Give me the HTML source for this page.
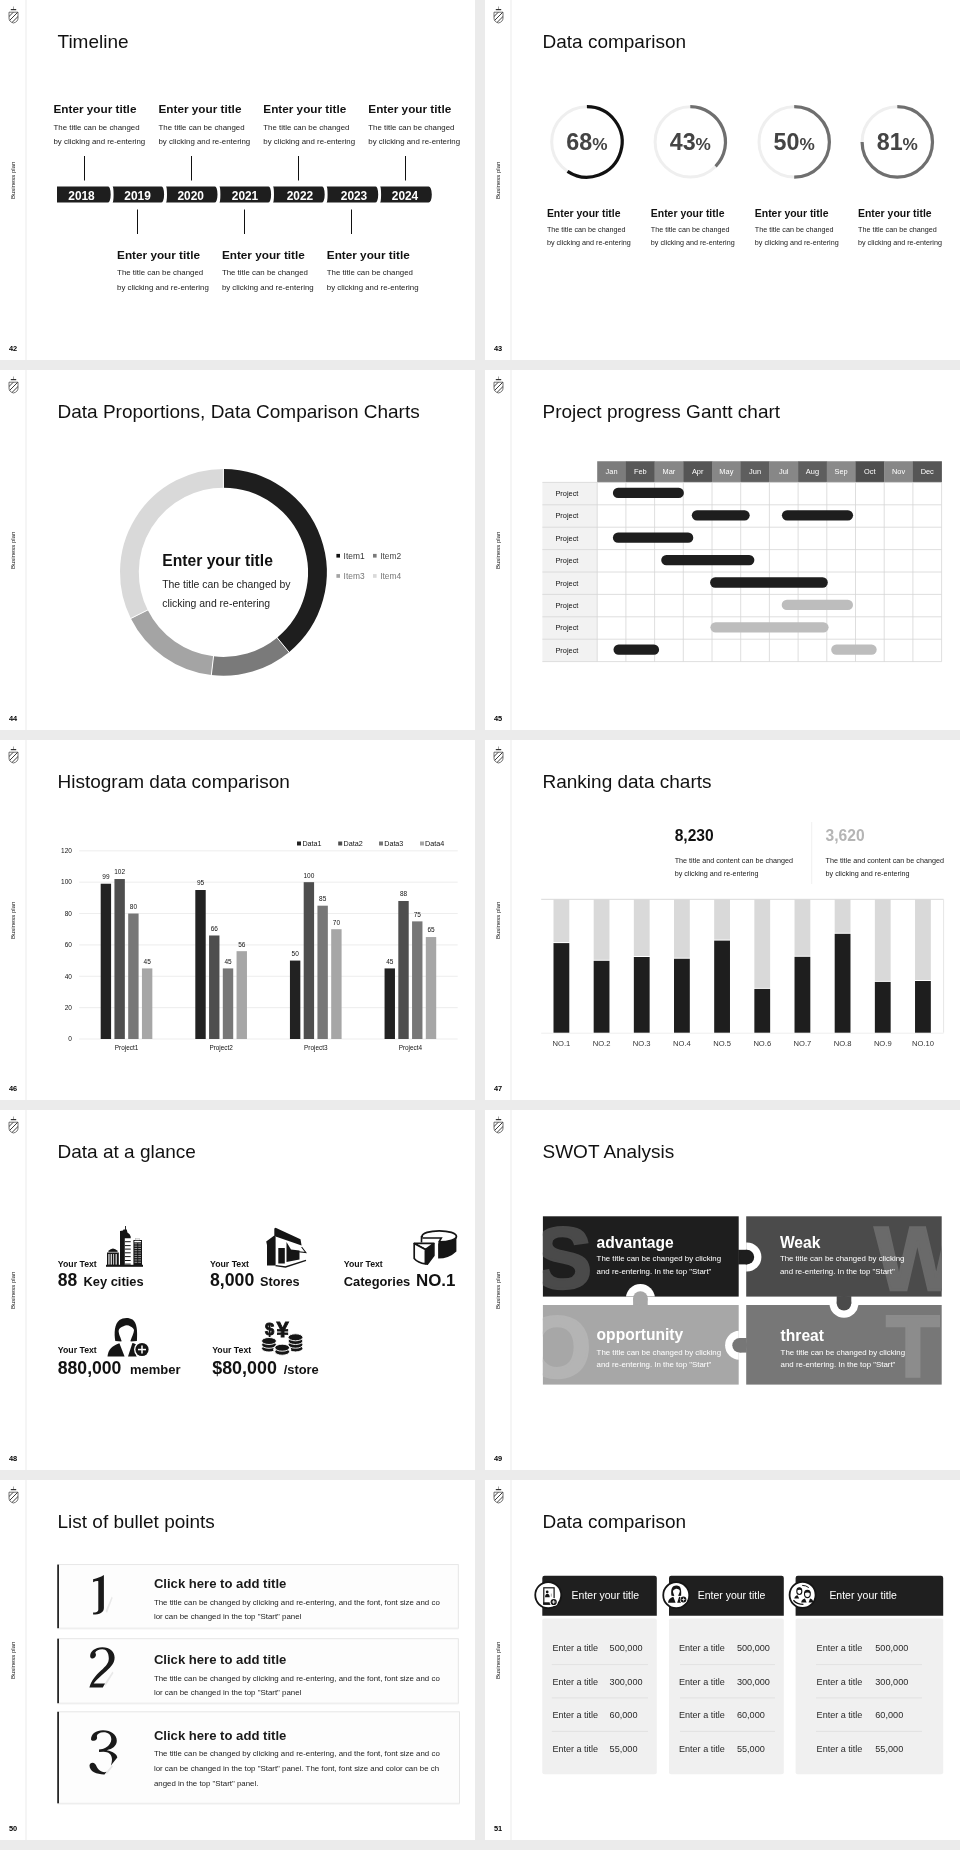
<!DOCTYPE html>
<html><head><meta charset="utf-8"><title>Slides</title>
<style>
html,body{margin:0;padding:0;background:#ebebeb;}
body{width:960px;height:1850px;position:relative;overflow:hidden;font-family:"Liberation Sans",sans-serif;}
svg.s{position:absolute;width:475px;height:360px;background:#fff;will-change:transform;}
svg text{font-family:"Liberation Sans",sans-serif;}
.ttl{font-size:19px;fill:#111;}
.pn{font-size:7.4px;font-weight:bold;fill:#000;}
.bp{font-size:6px;fill:#111;}
</style></head>
<body>
<svg width="0" height="0" style="position:absolute">
<defs>
<clipPath id="shc"><path d="M9,12.2 H18 V18 Q18,21.8 13.5,23 Q9,21.8 9,18 Z"/></clipPath>
<g id="com">
<rect x="25" y="0" width="2" height="360" fill="#f5f5f5"/>
<line x1="13.5" y1="6.5" x2="13.5" y2="9.3" stroke="#666" stroke-width="0.6"/>
<rect x="10.8" y="9" width="5.4" height="1.2" fill="#333"/>
<g clip-path="url(#shc)" stroke="#1a1a1a" stroke-width="0.85">
<line x1="7" y1="18.5" x2="14" y2="11.5"/><line x1="8" y1="22" x2="18.5" y2="11.5"/><line x1="11.5" y1="23" x2="19" y2="15.5"/>
</g>
<path d="M9,12.2 H18 V18 Q18,21.8 13.5,23 Q9,21.8 9,18 Z" fill="none" stroke="#444" stroke-width="0.75"/>
<text class="bp" transform="translate(15.2,199) rotate(-90)">Business plan</text>
</g>
</defs>
</svg>

<!-- S42 Timeline -->
<svg class="s" style="left:0;top:0" viewBox="0 0 475 360">
<use href="#com"/>
<text class="pn" x="8.9" y="351.3">42</text>
<text class="ttl" x="57.5" y="47.9">Timeline</text>
<path d="M57,186.4 H428.6 A3.2,8.05 0 0 1 428.6,202.5 H57 Z" fill="#1e1e1e"/>
<path d="M107.6,185.8 A3.1,8.65 0 0 1 107.6,203.1 L112.4,203.1 A1.2,8.65 0 0 0 112.4,185.8 Z" fill="#fff"/>
<path d="M161.0,185.8 A3.1,8.65 0 0 1 161.0,203.1 L165.8,203.1 A1.2,8.65 0 0 0 165.8,185.8 Z" fill="#fff"/>
<path d="M214.4,185.8 A3.1,8.65 0 0 1 214.4,203.1 L219.2,203.1 A1.2,8.65 0 0 0 219.2,185.8 Z" fill="#fff"/>
<path d="M268.0,185.8 A3.1,8.65 0 0 1 268.0,203.1 L272.8,203.1 A1.2,8.65 0 0 0 272.8,185.8 Z" fill="#fff"/>
<path d="M321.6,185.8 A3.1,8.65 0 0 1 321.6,203.1 L326.4,203.1 A1.2,8.65 0 0 0 326.4,185.8 Z" fill="#fff"/>
<path d="M375.1,185.8 A3.1,8.65 0 0 1 375.1,203.1 L379.9,203.1 A1.2,8.65 0 0 0 379.9,185.8 Z" fill="#fff"/>
<text x="81.5" y="199.7" text-anchor="middle" font-weight="bold" font-size="11.9" fill="#fff">2018</text>
<text x="137.6" y="199.7" text-anchor="middle" font-weight="bold" font-size="11.9" fill="#fff">2019</text>
<text x="190.7" y="199.7" text-anchor="middle" font-weight="bold" font-size="11.9" fill="#fff">2020</text>
<text x="245" y="199.7" text-anchor="middle" font-weight="bold" font-size="11.9" fill="#fff">2021</text>
<text x="299.9" y="199.7" text-anchor="middle" font-weight="bold" font-size="11.9" fill="#fff">2022</text>
<text x="354" y="199.7" text-anchor="middle" font-weight="bold" font-size="11.9" fill="#fff">2023</text>
<text x="405" y="199.7" text-anchor="middle" font-weight="bold" font-size="11.9" fill="#fff">2024</text>
<rect x="84" y="156" width="1" height="24.5" fill="#111"/>
<rect x="191" y="156" width="1" height="24.5" fill="#111"/>
<rect x="298" y="156" width="1" height="24.5" fill="#111"/>
<rect x="405" y="156" width="1" height="24.5" fill="#111"/>
<rect x="137" y="209.5" width="1" height="24.5" fill="#111"/>
<rect x="244" y="209.5" width="1" height="24.5" fill="#111"/>
<rect x="351" y="209.5" width="1" height="24.5" fill="#111"/>
<text x="53.5" y="112.9" font-weight="bold" font-size="11.75" fill="#111">Enter your title</text><text x="53.5" y="129.5" font-size="7.86" fill="#1a1a1a">The title can be changed</text><text x="53.5" y="143.7" font-size="7.86" fill="#1a1a1a">by clicking and re-entering</text>
<text x="158.5" y="112.9" font-weight="bold" font-size="11.75" fill="#111">Enter your title</text><text x="158.5" y="129.5" font-size="7.86" fill="#1a1a1a">The title can be changed</text><text x="158.5" y="143.7" font-size="7.86" fill="#1a1a1a">by clicking and re-entering</text>
<text x="263.3" y="112.9" font-weight="bold" font-size="11.75" fill="#111">Enter your title</text><text x="263.3" y="129.5" font-size="7.86" fill="#1a1a1a">The title can be changed</text><text x="263.3" y="143.7" font-size="7.86" fill="#1a1a1a">by clicking and re-entering</text>
<text x="368.3" y="112.9" font-weight="bold" font-size="11.75" fill="#111">Enter your title</text><text x="368.3" y="129.5" font-size="7.86" fill="#1a1a1a">The title can be changed</text><text x="368.3" y="143.7" font-size="7.86" fill="#1a1a1a">by clicking and re-entering</text>
<text x="117.1" y="258.8" font-weight="bold" font-size="11.75" fill="#111">Enter your title</text><text x="117.1" y="275.2" font-size="7.86" fill="#1a1a1a">The title can be changed</text><text x="117.1" y="289.5" font-size="7.86" fill="#1a1a1a">by clicking and re-entering</text>
<text x="221.9" y="258.8" font-weight="bold" font-size="11.75" fill="#111">Enter your title</text><text x="221.9" y="275.2" font-size="7.86" fill="#1a1a1a">The title can be changed</text><text x="221.9" y="289.5" font-size="7.86" fill="#1a1a1a">by clicking and re-entering</text>
<text x="326.8" y="258.8" font-weight="bold" font-size="11.75" fill="#111">Enter your title</text><text x="326.8" y="275.2" font-size="7.86" fill="#1a1a1a">The title can be changed</text><text x="326.8" y="289.5" font-size="7.86" fill="#1a1a1a">by clicking and re-entering</text>
</svg>

<!-- S43 Data comparison circles -->
<svg class="s" style="left:485px;top:0" viewBox="0 0 475 360">
<use href="#com"/>
<text class="pn" x="8.9" y="351.3">43</text>
<text class="ttl" x="57.5" y="47.9">Data comparison</text>
<circle cx="101.9" cy="141.9" r="35.2" fill="none" stroke="#efefef" stroke-width="3"/>
<path d="M101.9,106.7 A35.2,35.2 0 1 1 82.52,171.29" fill="none" stroke="#111" stroke-width="3.2"/>
<text x="101.9" y="150" text-anchor="middle" font-weight="bold" fill="#444"><tspan font-size="23.3">68</tspan><tspan font-size="17.2">%</tspan></text>
<circle cx="205.3" cy="141.9" r="35.2" fill="none" stroke="#efefef" stroke-width="3"/>
<path d="M205.3,106.7 A35.2,35.2 0 0 1 230.62,166.35" fill="none" stroke="#6f6f6f" stroke-width="3.2"/>
<text x="205.3" y="150" text-anchor="middle" font-weight="bold" fill="#444"><tspan font-size="23.3">43</tspan><tspan font-size="17.2">%</tspan></text>
<circle cx="309.2" cy="141.9" r="35.2" fill="none" stroke="#efefef" stroke-width="3"/>
<path d="M309.2,106.7 A35.2,35.2 0 0 1 309.20,177.10" fill="none" stroke="#6f6f6f" stroke-width="3.2"/>
<text x="309.2" y="150" text-anchor="middle" font-weight="bold" fill="#444"><tspan font-size="23.3">50</tspan><tspan font-size="17.2">%</tspan></text>
<circle cx="412.3" cy="141.9" r="35.2" fill="none" stroke="#efefef" stroke-width="3"/>
<path d="M412.3,106.7 A35.2,35.2 0 1 1 377.10,141.90" fill="none" stroke="#6f6f6f" stroke-width="3.2"/>
<text x="412.3" y="150" text-anchor="middle" font-weight="bold" fill="#444"><tspan font-size="23.3">81</tspan><tspan font-size="17.2">%</tspan></text>
<text x="61.9" y="217.3" font-weight="bold" font-size="10.45" fill="#111">Enter your title</text>
<text x="61.9" y="232.2" font-size="7.2" fill="#1a1a1a">The title can be changed</text>
<text x="61.9" y="244.8" font-size="7.2" fill="#1a1a1a">by clicking and re-entering</text>
<text x="165.8" y="217.3" font-weight="bold" font-size="10.45" fill="#111">Enter your title</text>
<text x="165.8" y="232.2" font-size="7.2" fill="#1a1a1a">The title can be changed</text>
<text x="165.8" y="244.8" font-size="7.2" fill="#1a1a1a">by clicking and re-entering</text>
<text x="269.8" y="217.3" font-weight="bold" font-size="10.45" fill="#111">Enter your title</text>
<text x="269.8" y="232.2" font-size="7.2" fill="#1a1a1a">The title can be changed</text>
<text x="269.8" y="244.8" font-size="7.2" fill="#1a1a1a">by clicking and re-entering</text>
<text x="373" y="217.3" font-weight="bold" font-size="10.45" fill="#111">Enter your title</text>
<text x="373" y="232.2" font-size="7.2" fill="#1a1a1a">The title can be changed</text>
<text x="373" y="244.8" font-size="7.2" fill="#1a1a1a">by clicking and re-entering</text>
</svg>

<!-- S44 Donut -->
<svg class="s" style="left:0;top:370px" viewBox="0 0 475 360">
<use href="#com"/>
<text class="pn" x="8.9" y="351.3">44</text>
<text class="ttl" x="57.5" y="47.9">Data Proportions, Data Comparison Charts</text>
<path d="M223.40,108.30 A94,94 0 0 1 283.06,274.94" fill="none" stroke="#1e1e1e" stroke-width="18.8"/>
<path d="M283.06,274.94 A94,94 0 0 1 212.43,295.66" fill="none" stroke="#7a7a7a" stroke-width="18.8"/>
<path d="M212.43,295.66 A94,94 0 0 1 139.28,244.24" fill="none" stroke="#a4a4a4" stroke-width="18.8"/>
<path d="M139.28,244.24 A94,94 0 0 1 223.40,108.30" fill="none" stroke="#d9d9d9" stroke-width="18.8"/>
<line x1="223.40" y1="118.70" x2="223.40" y2="97.90" stroke="#fff" stroke-width="1"/>
<line x1="276.46" y1="266.90" x2="289.67" y2="282.97" stroke="#fff" stroke-width="1"/>
<line x1="213.65" y1="285.33" x2="211.22" y2="305.99" stroke="#fff" stroke-width="1"/>
<line x1="148.58" y1="239.60" x2="129.97" y2="248.88" stroke="#fff" stroke-width="1"/>
<text x="162.2" y="195.9" font-weight="bold" font-size="15.7" fill="#111">Enter your title</text>
<text x="162.2" y="218.2" font-size="10.45" fill="#222">The title can be changed by</text>
<text x="162.2" y="236.6" font-size="10.45" fill="#222">clicking and re-entering</text>
<rect x="336.4" y="183.9" width="3.6" height="3.7" fill="#111"/>
<text x="343.59999999999997" y="188.7" font-size="8.4" fill="#333">Item1</text>
<rect x="373" y="183.9" width="3.6" height="3.7" fill="#7a7a7a"/>
<text x="380.2" y="188.7" font-size="8.4" fill="#444">Item2</text>
<rect x="336.4" y="204.1" width="3.6" height="3.7" fill="#a4a4a4"/>
<text x="343.59999999999997" y="208.9" font-size="8.4" fill="#777">Item3</text>
<rect x="373" y="204.1" width="3.6" height="3.7" fill="#d9d9d9"/>
<text x="380.2" y="208.9" font-size="8.4" fill="#777">Item4</text>
</svg>

<!-- S45 Gantt -->
<svg class="s" style="left:485px;top:370px" viewBox="0 0 475 360">
<use href="#com"/>
<text class="pn" x="8.9" y="351.3">45</text>
<text class="ttl" x="57.5" y="47.9">Project progress Gantt chart</text>
<rect x="112.20" y="91.25" width="29.00" height="21.15" fill="#7c7c7c"/>
<text x="126.55" y="104.3" text-anchor="middle" font-size="7.4" fill="#fff">Jan</text>
<rect x="140.90" y="91.25" width="29.00" height="21.15" fill="#585858"/>
<text x="155.25" y="104.3" text-anchor="middle" font-size="7.4" fill="#fff">Feb</text>
<rect x="169.60" y="91.25" width="29.00" height="21.15" fill="#878787"/>
<text x="183.95" y="104.3" text-anchor="middle" font-size="7.4" fill="#fff">Mar</text>
<rect x="198.30" y="91.25" width="29.00" height="21.15" fill="#555555"/>
<text x="212.65" y="104.3" text-anchor="middle" font-size="7.4" fill="#fff">Apr</text>
<rect x="227.00" y="91.25" width="29.00" height="21.15" fill="#878787"/>
<text x="241.35" y="104.3" text-anchor="middle" font-size="7.4" fill="#fff">May</text>
<rect x="255.70" y="91.25" width="29.00" height="21.15" fill="#5e5e5e"/>
<text x="270.05" y="104.3" text-anchor="middle" font-size="7.4" fill="#fff">Jun</text>
<rect x="284.40" y="91.25" width="29.00" height="21.15" fill="#878787"/>
<text x="298.75" y="104.3" text-anchor="middle" font-size="7.4" fill="#fff">Jul</text>
<rect x="313.10" y="91.25" width="29.00" height="21.15" fill="#5e5e5e"/>
<text x="327.45" y="104.3" text-anchor="middle" font-size="7.4" fill="#fff">Aug</text>
<rect x="341.80" y="91.25" width="29.00" height="21.15" fill="#8a8a8a"/>
<text x="356.15" y="104.3" text-anchor="middle" font-size="7.4" fill="#fff">Sep</text>
<rect x="370.50" y="91.25" width="29.00" height="21.15" fill="#4e4e4e"/>
<text x="384.85" y="104.3" text-anchor="middle" font-size="7.4" fill="#fff">Oct</text>
<rect x="399.20" y="91.25" width="29.00" height="21.15" fill="#878787"/>
<text x="413.55" y="104.3" text-anchor="middle" font-size="7.4" fill="#fff">Nov</text>
<rect x="427.90" y="91.25" width="29.00" height="21.15" fill="#565656"/>
<text x="442.25" y="104.3" text-anchor="middle" font-size="7.4" fill="#fff">Dec</text>
<rect x="57.39999999999998" y="112.39999999999998" width="54.80" height="179.20" fill="#f2f2f2"/>
<line x1="57.39999999999998" y1="112.40" x2="456.60" y2="112.40" stroke="#d6d6d6" stroke-width="0.8"/>
<line x1="57.39999999999998" y1="134.80" x2="456.60" y2="134.80" stroke="#d6d6d6" stroke-width="0.8"/>
<line x1="57.39999999999998" y1="157.20" x2="456.60" y2="157.20" stroke="#d6d6d6" stroke-width="0.8"/>
<line x1="57.39999999999998" y1="179.60" x2="456.60" y2="179.60" stroke="#d6d6d6" stroke-width="0.8"/>
<line x1="57.39999999999998" y1="202.00" x2="456.60" y2="202.00" stroke="#d6d6d6" stroke-width="0.8"/>
<line x1="57.39999999999998" y1="224.40" x2="456.60" y2="224.40" stroke="#d6d6d6" stroke-width="0.8"/>
<line x1="57.39999999999998" y1="246.80" x2="456.60" y2="246.80" stroke="#d6d6d6" stroke-width="0.8"/>
<line x1="57.39999999999998" y1="269.20" x2="456.60" y2="269.20" stroke="#d6d6d6" stroke-width="0.8"/>
<line x1="57.39999999999998" y1="291.60" x2="456.60" y2="291.60" stroke="#d6d6d6" stroke-width="0.8"/>
<line x1="112.20" y1="112.39999999999998" x2="112.20" y2="291.60" stroke="#d6d6d6" stroke-width="0.8"/>
<line x1="140.90" y1="112.39999999999998" x2="140.90" y2="291.60" stroke="#d6d6d6" stroke-width="0.8"/>
<line x1="169.60" y1="112.39999999999998" x2="169.60" y2="291.60" stroke="#d6d6d6" stroke-width="0.8"/>
<line x1="198.30" y1="112.39999999999998" x2="198.30" y2="291.60" stroke="#d6d6d6" stroke-width="0.8"/>
<line x1="227.00" y1="112.39999999999998" x2="227.00" y2="291.60" stroke="#d6d6d6" stroke-width="0.8"/>
<line x1="255.70" y1="112.39999999999998" x2="255.70" y2="291.60" stroke="#d6d6d6" stroke-width="0.8"/>
<line x1="284.40" y1="112.39999999999998" x2="284.40" y2="291.60" stroke="#d6d6d6" stroke-width="0.8"/>
<line x1="313.10" y1="112.39999999999998" x2="313.10" y2="291.60" stroke="#d6d6d6" stroke-width="0.8"/>
<line x1="341.80" y1="112.39999999999998" x2="341.80" y2="291.60" stroke="#d6d6d6" stroke-width="0.8"/>
<line x1="370.50" y1="112.39999999999998" x2="370.50" y2="291.60" stroke="#d6d6d6" stroke-width="0.8"/>
<line x1="399.20" y1="112.39999999999998" x2="399.20" y2="291.60" stroke="#d6d6d6" stroke-width="0.8"/>
<line x1="427.90" y1="112.39999999999998" x2="427.90" y2="291.60" stroke="#d6d6d6" stroke-width="0.8"/>
<line x1="456.60" y1="112.39999999999998" x2="456.60" y2="291.60" stroke="#d6d6d6" stroke-width="0.8"/>
<text x="81.9" y="126.70" text-anchor="middle" font-size="7.4" fill="#111" dy="-0.8">Project</text>
<text x="81.9" y="149.10" text-anchor="middle" font-size="7.4" fill="#111" dy="-0.8">Project</text>
<text x="81.9" y="171.50" text-anchor="middle" font-size="7.4" fill="#111" dy="-0.8">Project</text>
<text x="81.9" y="193.90" text-anchor="middle" font-size="7.4" fill="#111" dy="-0.8">Project</text>
<text x="81.9" y="216.30" text-anchor="middle" font-size="7.4" fill="#111" dy="-0.8">Project</text>
<text x="81.9" y="238.70" text-anchor="middle" font-size="7.4" fill="#111" dy="-0.8">Project</text>
<text x="81.9" y="261.10" text-anchor="middle" font-size="7.4" fill="#111" dy="-0.8">Project</text>
<text x="81.9" y="283.50" text-anchor="middle" font-size="7.4" fill="#111" dy="-0.8">Project</text>
<rect x="127.9" y="117.75" width="71.0" height="10.3" rx="5.15" fill="#1e1e1e"/>
<rect x="206.8" y="140.15" width="57.9" height="10.3" rx="5.15" fill="#1e1e1e"/>
<rect x="296.9" y="140.15" width="71.2" height="10.3" rx="5.15" fill="#1e1e1e"/>
<rect x="127.9" y="162.55" width="80.4" height="10.3" rx="5.15" fill="#1e1e1e"/>
<rect x="176.2" y="184.95" width="93.2" height="10.3" rx="5.15" fill="#1e1e1e"/>
<rect x="225.1" y="207.35" width="117.7" height="10.3" rx="5.15" fill="#1e1e1e"/>
<rect x="296.7" y="229.75" width="71.3" height="10.3" rx="5.15" fill="#bdbdbd"/>
<rect x="225.4" y="252.15" width="118.2" height="10.3" rx="5.15" fill="#bdbdbd"/>
<rect x="128.5" y="274.55" width="45.6" height="10.3" rx="5.15" fill="#1e1e1e"/>
<rect x="346.2" y="274.55" width="45.5" height="10.3" rx="5.15" fill="#bdbdbd"/>
</svg>

<!-- S46 Histogram -->
<svg class="s" style="left:0;top:740px" viewBox="0 0 475 360">
<use href="#com"/>
<text class="pn" x="8.9" y="351.3">46</text>
<text class="ttl" x="57.5" y="47.9">Histogram data comparison</text>
<line x1="79.2" y1="299.00" x2="457.7" y2="299.00" stroke="#e8e8e8" stroke-width="0.8"/>
<text x="71.9" y="301.30" text-anchor="end" font-size="6.5" fill="#111">0</text>
<line x1="79.2" y1="267.63" x2="457.7" y2="267.63" stroke="#e8e8e8" stroke-width="0.8"/>
<text x="71.9" y="269.93" text-anchor="end" font-size="6.5" fill="#111">20</text>
<line x1="79.2" y1="236.27" x2="457.7" y2="236.27" stroke="#e8e8e8" stroke-width="0.8"/>
<text x="71.9" y="238.57" text-anchor="end" font-size="6.5" fill="#111">40</text>
<line x1="79.2" y1="204.90" x2="457.7" y2="204.90" stroke="#e8e8e8" stroke-width="0.8"/>
<text x="71.9" y="207.20" text-anchor="end" font-size="6.5" fill="#111">60</text>
<line x1="79.2" y1="173.53" x2="457.7" y2="173.53" stroke="#e8e8e8" stroke-width="0.8"/>
<text x="71.9" y="175.83" text-anchor="end" font-size="6.5" fill="#111">80</text>
<line x1="79.2" y1="142.17" x2="457.7" y2="142.17" stroke="#e8e8e8" stroke-width="0.8"/>
<text x="71.9" y="144.47" text-anchor="end" font-size="6.5" fill="#111">100</text>
<line x1="79.2" y1="110.80" x2="457.7" y2="110.80" stroke="#e8e8e8" stroke-width="0.8"/>
<text x="71.9" y="113.10" text-anchor="end" font-size="6.5" fill="#111">120</text>
<rect x="100.69" y="143.73" width="10.4" height="155.27" fill="#222222"/>
<text x="105.89" y="139.13" text-anchor="middle" font-size="6.5" fill="#111">99</text>
<rect x="114.44" y="139.03" width="10.4" height="159.97" fill="#4e4e4e"/>
<text x="119.64" y="134.43" text-anchor="middle" font-size="6.5" fill="#111">102</text>
<rect x="128.19" y="173.53" width="10.4" height="125.47" fill="#777777"/>
<text x="133.39" y="168.93" text-anchor="middle" font-size="6.5" fill="#111">80</text>
<rect x="141.94" y="228.42" width="10.4" height="70.58" fill="#a6a6a6"/>
<text x="147.14" y="223.82" text-anchor="middle" font-size="6.5" fill="#111">45</text>
<text x="126.51" y="309.60" text-anchor="middle" font-size="6.4" fill="#111">Project1</text>
<rect x="195.31" y="150.01" width="10.4" height="148.99" fill="#222222"/>
<text x="200.51" y="145.41" text-anchor="middle" font-size="6.5" fill="#111">95</text>
<rect x="209.06" y="195.49" width="10.4" height="103.51" fill="#4e4e4e"/>
<text x="214.26" y="190.89" text-anchor="middle" font-size="6.5" fill="#111">66</text>
<rect x="222.81" y="228.42" width="10.4" height="70.58" fill="#777777"/>
<text x="228.01" y="223.82" text-anchor="middle" font-size="6.5" fill="#111">45</text>
<rect x="236.56" y="211.17" width="10.4" height="87.83" fill="#a6a6a6"/>
<text x="241.76" y="206.57" text-anchor="middle" font-size="6.5" fill="#111">56</text>
<text x="221.14" y="309.60" text-anchor="middle" font-size="6.4" fill="#111">Project2</text>
<rect x="289.94" y="220.58" width="10.4" height="78.42" fill="#222222"/>
<text x="295.14" y="215.98" text-anchor="middle" font-size="6.5" fill="#111">50</text>
<rect x="303.69" y="142.17" width="10.4" height="156.83" fill="#4e4e4e"/>
<text x="308.89" y="137.57" text-anchor="middle" font-size="6.5" fill="#111">100</text>
<rect x="317.44" y="165.69" width="10.4" height="133.31" fill="#777777"/>
<text x="322.64" y="161.09" text-anchor="middle" font-size="6.5" fill="#111">85</text>
<rect x="331.19" y="189.22" width="10.4" height="109.78" fill="#a6a6a6"/>
<text x="336.39" y="184.62" text-anchor="middle" font-size="6.5" fill="#111">70</text>
<text x="315.76" y="309.60" text-anchor="middle" font-size="6.4" fill="#111">Project3</text>
<rect x="384.56" y="228.42" width="10.4" height="70.58" fill="#222222"/>
<text x="389.76" y="223.82" text-anchor="middle" font-size="6.5" fill="#111">45</text>
<rect x="398.31" y="160.99" width="10.4" height="138.01" fill="#4e4e4e"/>
<text x="403.51" y="156.39" text-anchor="middle" font-size="6.5" fill="#111">88</text>
<rect x="412.06" y="181.37" width="10.4" height="117.63" fill="#777777"/>
<text x="417.26" y="176.77" text-anchor="middle" font-size="6.5" fill="#111">75</text>
<rect x="425.81" y="197.06" width="10.4" height="101.94" fill="#a6a6a6"/>
<text x="431.01" y="192.46" text-anchor="middle" font-size="6.5" fill="#111">65</text>
<text x="410.39" y="309.60" text-anchor="middle" font-size="6.4" fill="#111">Project4</text>
<rect x="297" y="101.5" width="4" height="4" fill="#222222"/>
<text x="302.4" y="105.9" font-size="7.2" fill="#111">Data1</text>
<rect x="338.2" y="101.5" width="4" height="4" fill="#4e4e4e"/>
<text x="343.5" y="105.9" font-size="7.2" fill="#111">Data2</text>
<rect x="379" y="101.5" width="4" height="4" fill="#777777"/>
<text x="384.2" y="105.9" font-size="7.2" fill="#111">Data3</text>
<rect x="420" y="101.5" width="4" height="4" fill="#a6a6a6"/>
<text x="425" y="105.9" font-size="7.2" fill="#111">Data4</text>
</svg>

<!-- S47 Ranking -->
<svg class="s" style="left:485px;top:740px" viewBox="0 0 475 360">
<use href="#com"/>
<text class="pn" x="8.9" y="351.3">47</text>
<text class="ttl" x="57.5" y="47.9">Ranking data charts</text>
<line x1="56.200000000000045" y1="159.29999999999995" x2="458.6" y2="159.29999999999995" stroke="#d9d9d9" stroke-width="1"/>
<line x1="458.6" y1="159.29999999999995" x2="458.6" y2="292.70000000000005" stroke="#e6e6e6" stroke-width="1"/>
<line x1="56.200000000000045" y1="293.20000000000005" x2="458.6" y2="293.20000000000005" stroke="#eeeeee" stroke-width="1"/>
<rect x="68.50" y="159.30" width="15.8" height="42.80" fill="#d9d9d9"/>
<rect x="68.50" y="203.10" width="15.8" height="89.60" fill="#1e1e1e"/>
<text x="76.40" y="305.8" text-anchor="middle" font-size="7.6" fill="#333">NO.1</text>
<rect x="108.67" y="159.30" width="15.8" height="60.50" fill="#d9d9d9"/>
<rect x="108.67" y="220.80" width="15.8" height="71.90" fill="#1e1e1e"/>
<text x="116.57" y="305.8" text-anchor="middle" font-size="7.6" fill="#333">NO.2</text>
<rect x="148.84" y="159.30" width="15.8" height="56.70" fill="#d9d9d9"/>
<rect x="148.84" y="217.00" width="15.8" height="75.70" fill="#1e1e1e"/>
<text x="156.74" y="305.8" text-anchor="middle" font-size="7.6" fill="#333">NO.3</text>
<rect x="189.01" y="159.30" width="15.8" height="58.45" fill="#d9d9d9"/>
<rect x="189.01" y="218.75" width="15.8" height="73.95" fill="#1e1e1e"/>
<text x="196.91" y="305.8" text-anchor="middle" font-size="7.6" fill="#333">NO.4</text>
<rect x="229.18" y="159.30" width="15.8" height="40.30" fill="#d9d9d9"/>
<rect x="229.18" y="200.60" width="15.8" height="92.10" fill="#1e1e1e"/>
<text x="237.08" y="305.8" text-anchor="middle" font-size="7.6" fill="#333">NO.5</text>
<rect x="269.35" y="159.30" width="15.8" height="88.60" fill="#d9d9d9"/>
<rect x="269.35" y="248.90" width="15.8" height="43.80" fill="#1e1e1e"/>
<text x="277.25" y="305.8" text-anchor="middle" font-size="7.6" fill="#333">NO.6</text>
<rect x="309.52" y="159.30" width="15.8" height="56.50" fill="#d9d9d9"/>
<rect x="309.52" y="216.80" width="15.8" height="75.90" fill="#1e1e1e"/>
<text x="317.42" y="305.8" text-anchor="middle" font-size="7.6" fill="#333">NO.7</text>
<rect x="349.69" y="159.30" width="15.8" height="33.50" fill="#d9d9d9"/>
<rect x="349.69" y="193.80" width="15.8" height="98.90" fill="#1e1e1e"/>
<text x="357.59" y="305.8" text-anchor="middle" font-size="7.6" fill="#333">NO.8</text>
<rect x="389.86" y="159.30" width="15.8" height="81.60" fill="#d9d9d9"/>
<rect x="389.86" y="241.90" width="15.8" height="50.80" fill="#1e1e1e"/>
<text x="397.76" y="305.8" text-anchor="middle" font-size="7.6" fill="#333">NO.9</text>
<rect x="430.03" y="159.30" width="15.8" height="80.70" fill="#d9d9d9"/>
<rect x="430.03" y="241.00" width="15.8" height="51.70" fill="#1e1e1e"/>
<text x="437.93" y="305.8" text-anchor="middle" font-size="7.6" fill="#333">NO.10</text>
<text x="189.7" y="101.3" font-weight="bold" font-size="15.6" fill="#111">8,230</text>
<text x="340.6" y="101.3" font-weight="bold" font-size="15.6" fill="#b5b5b5">3,620</text>
<text x="189.7" y="123.0" font-size="7.2" fill="#1a1a1a">The title and content can be changed</text>
<text x="189.7" y="135.8" font-size="7.2" fill="#1a1a1a">by clicking and re-entering</text>
<text x="340.6" y="123.0" font-size="7.2" fill="#1a1a1a">The title and content can be changed</text>
<text x="340.6" y="135.8" font-size="7.2" fill="#1a1a1a">by clicking and re-entering</text>
<line x1="326.70000000000005" y1="82" x2="326.70000000000005" y2="144" stroke="#f0f0f0" stroke-width="1"/>
</svg>

<!-- S48 Data at a glance -->
<svg class="s" style="left:0;top:1110px" viewBox="0 0 475 360">
<use href="#com"/>
<text class="pn" x="8.9" y="351.3">48</text>
<text class="ttl" x="57.5" y="47.9">Data at a glance</text>
<text x="57.8" y="156.90" font-size="8.74" font-weight="bold" fill="#111" >Your Text</text>
<text x="57.8" y="175.60" font-size="17.5" font-weight="bold" fill="#111" >88</text>
<text x="83.6" y="175.60" font-size="12.85" font-weight="bold" fill="#111" >Key cities</text>
<text x="210" y="156.90" font-size="8.74" font-weight="bold" fill="#111" >Your Text</text>
<text x="210" y="175.90" font-size="17.7" font-weight="bold" fill="#111" >8,000</text>
<text x="260" y="175.90" font-size="12.7" font-weight="bold" fill="#111" >Stores</text>
<text x="343.8" y="156.70" font-size="8.74" font-weight="bold" fill="#111" >Your Text</text>
<text x="343.8" y="175.70" font-size="12.85" font-weight="bold" fill="#111" >Categories</text>
<text x="416" y="175.70" font-size="16.9" font-weight="bold" fill="#111" >NO.1</text>
<text x="57.8" y="243.00" font-size="8.74" font-weight="bold" fill="#111" >Your Text</text>
<text x="57.8" y="263.70" font-size="17.6" font-weight="bold" fill="#111" >880,000</text>
<text x="130" y="263.70" font-size="13" font-weight="bold" fill="#111" >member</text>
<text x="212.2" y="242.70" font-size="8.74" font-weight="bold" fill="#111" >Your Text</text>
<text x="212.2" y="263.60" font-size="17.9" font-weight="bold" fill="#111" >$80,000</text>
<text x="283.7" y="263.60" font-size="12.9" font-weight="bold" fill="#111" >/store</text>
<g transform="translate(0,-1110)"><rect x="106" y="1264.8" width="37" height="2" fill="#151515"/>
<rect x="107" y="1252.5" width="11.8" height="12.5" fill="#151515"/>
<rect x="108.4" y="1254" width="1.1" height="10.6" fill="#fff"/>
<rect x="110.7" y="1254" width="1.1" height="10.6" fill="#fff"/>
<rect x="113" y="1254" width="1.1" height="10.6" fill="#bbb"/>
<rect x="115.6" y="1254" width="1.1" height="10.6" fill="#fff"/>
<path d="M108.2,1251.3 Q113,1245.6 117.8,1251.3 Z" fill="#151515"/>
<rect x="108.5" y="1250.6" width="9" height="1.2" fill="#151515"/>
<polygon points="120,1231 123,1230.6 123.5,1229.6 126.8,1229.6 127.4,1232.4 129.6,1234.3 130.7,1236.4 130.7,1238.2 124.8,1238.2 124.8,1265 120,1265" fill="#151515"/>
<rect x="125.1" y="1226" width="0.9" height="4" fill="#151515"/>
<rect x="124.8" y="1241.2" width="5.9" height="1" fill="#151515"/>
<rect x="124.8" y="1245.1" width="5.9" height="1" fill="#151515"/>
<rect x="124.8" y="1248.6" width="5.9" height="1" fill="#151515"/>
<rect x="124.8" y="1252.3" width="5.9" height="1" fill="#151515"/>
<rect x="124.8" y="1256.1" width="5.9" height="1" fill="#151515"/>
<rect x="124.8" y="1260" width="5.9" height="1" fill="#151515"/>
<rect x="124.8" y="1263.6" width="5.9" height="1" fill="#151515"/>
<rect x="133.4" y="1240" width="8.6" height="25" fill="#151515"/>
<rect x="134.3" y="1241" width="6.8" height="1.3" fill="#fff"/>
<rect x="134.5" y="1243.4" width="2.8" height="0.9" fill="#aaa"/>
<rect x="138.2" y="1243.4" width="2.8" height="0.9" fill="#aaa"/>
<rect x="134.5" y="1245.7" width="2.8" height="0.9" fill="#aaa"/>
<rect x="138.2" y="1245.7" width="2.8" height="0.9" fill="#aaa"/>
<rect x="134.5" y="1248.0" width="2.8" height="0.9" fill="#aaa"/>
<rect x="138.2" y="1248.0" width="2.8" height="0.9" fill="#aaa"/>
<rect x="134.5" y="1250.3" width="2.8" height="0.9" fill="#aaa"/>
<rect x="138.2" y="1250.3" width="2.8" height="0.9" fill="#aaa"/>
<rect x="134.5" y="1252.6" width="2.8" height="0.9" fill="#aaa"/>
<rect x="138.2" y="1252.6" width="2.8" height="0.9" fill="#aaa"/>
<rect x="134.5" y="1254.9" width="2.8" height="0.9" fill="#aaa"/>
<rect x="138.2" y="1254.9" width="2.8" height="0.9" fill="#aaa"/>
<rect x="134.5" y="1257.2" width="2.8" height="0.9" fill="#aaa"/>
<rect x="138.2" y="1257.2" width="2.8" height="0.9" fill="#aaa"/>
<rect x="134.5" y="1259.5" width="2.8" height="0.9" fill="#aaa"/>
<rect x="138.2" y="1259.5" width="2.8" height="0.9" fill="#aaa"/>
<rect x="134.5" y="1261.8" width="2.8" height="0.9" fill="#aaa"/>
<rect x="138.2" y="1261.8" width="2.8" height="0.9" fill="#aaa"/>
<rect x="135.6" y="1238.4" width="3.8" height="1.6" fill="none" stroke="#bbb" stroke-width="0.6"/>
<polygon points="274.3,1228.6 275.6,1227.8 300.5,1239.2 301.6,1245.6 275.6,1236.6 274.3,1236" fill="#151515"/>
<polygon points="266.2,1241.6 274.3,1235.4 275.6,1236.4 275.6,1265.6 267,1265.6 267,1245" fill="#151515"/>
<rect x="278.3" y="1248" width="6.5" height="15.5" fill="#151515"/>
<polygon points="286.5,1242 291,1249.5 299.5,1250.6 299.5,1259.6 286.5,1262" fill="#151515"/>
<polyline points="292,1251 305.8,1252.5 301.6,1247" fill="none" stroke="#151515" stroke-width="1.1"/>
<polyline points="275.5,1265.6 285.5,1267 306,1260.4" fill="none" stroke="#151515" stroke-width="1.4"/>
<path d="M438.1,1240 V1258.6 Q449,1258.6 456.4,1251.5 V1236.4 Z" fill="#151515"/>
<ellipse cx="439.2" cy="1236.4" rx="17.2" ry="5.6" fill="#fff" stroke="#151515" stroke-width="1.8"/>
<polygon points="422.5,1237.2 441.3,1237.2 438.6,1243.2 422.5,1243.2" fill="#fff"/>
<polyline points="422.8,1238 441.3,1238 438.6,1242.6" fill="none" stroke="#151515" stroke-width="1.6"/>
<line x1="421.5" y1="1236" x2="421.5" y2="1242.5" stroke="#151515" stroke-width="1.6"/>
<path d="M425.6,1249.4 L433.9,1243.3 V1255.5 L427.3,1264.3 L425.4,1263.6 Z" fill="#151515"/>
<path d="M414.2,1243.4 L433.9,1243.3 L425.6,1249.4 Z" fill="#fff" stroke="#151515" stroke-width="1.6" stroke-linejoin="round"/>
<path d="M414.2,1243.6 L425.4,1249.6 V1263.8 Q418,1263 414.2,1258.5 Z" fill="#fff" stroke="#151515" stroke-width="1.7" stroke-linejoin="round"/>
<path d="M433.9,1243.3 V1255.5 L427.3,1264.3 L425.4,1263.8" fill="none" stroke="#151515" stroke-width="1.6" stroke-linejoin="round"/>
<path d="M115.3,1341 C114,1333 114.4,1324 119.5,1320 C123,1317.4 129,1317.2 132.5,1319.5 C137,1322.5 137.6,1331 136.9,1341 L130.5,1341.5 L126,1336 L121.5,1341.5 Z" fill="#151515"/>
<path d="M118.6,1331 C118.8,1328.5 121,1326.8 123.5,1326.2 C125.5,1325 128.5,1325 130.5,1326.5 C132.5,1327.5 134,1329 134,1330.2 C133.6,1333.5 132.5,1335.5 131.8,1337.2 L130.4,1341 L131,1343.2 L128,1356.6 L124.6,1356.6 L121.4,1343.4 L121.6,1341 L120.4,1337.5 C119.5,1335.5 118.8,1333.5 118.6,1331 Z" fill="#fff"/>
<path d="M107.5,1356.6 C108,1350 112,1345.5 119.4,1343.2 L124.6,1356.6 Z" fill="#151515"/>
<path d="M128,1356.6 L132.4,1343.1 C134.2,1343.3 135.6,1344 136.6,1345 C135,1348 135,1353.5 136.8,1356.6 Z" fill="#151515"/>
<circle cx="142" cy="1349.5" r="8" fill="#fff"/>
<circle cx="142" cy="1349.5" r="6.6" fill="#151515"/>
<rect x="138" y="1348.8" width="8" height="1.5" fill="#fff"/><rect x="141.25" y="1345.5" width="1.5" height="8" fill="#fff"/>
<ellipse cx="295.5" cy="1348.4" rx="7.4" ry="3.5" fill="#151515" stroke="#fff" stroke-width="0.9"/>
<ellipse cx="295.5" cy="1344.7" rx="7.4" ry="3.5" fill="#151515" stroke="#fff" stroke-width="0.9"/>
<ellipse cx="295.5" cy="1341" rx="7.4" ry="3.5" fill="#151515" stroke="#fff" stroke-width="0.9"/>
<ellipse cx="295.5" cy="1337.3" rx="7.4" ry="3.5" fill="#151515" stroke="#fff" stroke-width="0.9"/>
<ellipse cx="269" cy="1348.5" rx="7.4" ry="3.5" fill="#151515" stroke="#fff" stroke-width="0.9"/>
<ellipse cx="269" cy="1344.8" rx="7.4" ry="3.5" fill="#151515" stroke="#fff" stroke-width="0.9"/>
<ellipse cx="269" cy="1341" rx="7.4" ry="3.5" fill="#151515" stroke="#fff" stroke-width="0.9"/>
<ellipse cx="282.2" cy="1349.5" rx="9" ry="6" fill="#fff"/>
<ellipse cx="282.2" cy="1351.7" rx="7.4" ry="3.5" fill="#151515" stroke="#fff" stroke-width="0.9"/>
<ellipse cx="282.2" cy="1347.7" rx="7.4" ry="3.5" fill="#151515" stroke="#fff" stroke-width="0.9"/>
<text x="269.6" y="1335" text-anchor="middle" font-size="16.5" font-weight="bold" fill="#151515" stroke="#151515" stroke-width="0.9">$</text>
<text x="282.6" y="1336.6" text-anchor="middle" font-size="22" font-weight="bold" fill="#151515" stroke="#151515" stroke-width="0.9">¥</text></g>
</svg>

<!-- S49 SWOT -->
<svg class="s" style="left:485px;top:1110px" viewBox="0 0 475 360">
<use href="#com"/>
<text class="pn" x="8.9" y="351.3">49</text>
<text class="ttl" x="57.5" y="47.9">SWOT Analysis</text>
<g transform="translate(-485,-1110)"><defs><clipPath id="swS"><rect x="542.9" y="1216.3" width="195.80000000000007" height="80.29999999999995"/></clipPath><clipPath id="swW"><rect x="746.2" y="1216.3" width="195.5" height="80.29999999999995"/></clipPath><clipPath id="swO"><rect x="542.9" y="1305.0" width="195.80000000000007" height="79.59999999999991"/></clipPath><clipPath id="swT"><rect x="746.2" y="1305.0" width="195.5" height="79.59999999999991"/></clipPath></defs>
<rect x="542.9" y="1216.3" width="195.8" height="80.3" fill="#1e1e1e"/>
<rect x="746.2" y="1216.3" width="195.5" height="80.3" fill="#4b4b4b"/>
<rect x="542.9" y="1305.0" width="195.8" height="79.6" fill="#a7a7a7"/>
<rect x="746.2" y="1305.0" width="195.5" height="79.6" fill="#777777"/>
<text x="533.6" y="1287.8" font-size="88" font-weight="bold" fill="#4a4a4a" stroke="#4a4a4a" stroke-width="2.4" clip-path="url(#swS)">S</text>
<text x="874.5" y="1289.6" font-size="91" font-weight="bold" fill="#6a6a6a" stroke="#6a6a6a" stroke-width="2.4" clip-path="url(#swW)">W</text>
<text x="523" y="1376.6" font-size="88" font-weight="bold" fill="#b4b4b4" stroke="#b4b4b4" stroke-width="2.4" clip-path="url(#swO)">O</text>
<text x="886" y="1376" font-size="88" font-weight="bold" fill="#8c8c8c" stroke="#8c8c8c" stroke-width="2.4" clip-path="url(#swT)">T</text>
<circle cx="746.9" cy="1257.1" r="14.5" fill="#fff" clip-path="url(#swW)"/>
<rect x="738.2" y="1249.8" width="8.699999999999932" height="14.6" fill="#1e1e1e"/><circle cx="746.9" cy="1257.1" r="7.3" fill="#1e1e1e"/>
<circle cx="640.4" cy="1298.5" r="14.5" fill="#fff" clip-path="url(#swS)"/>
<rect x="633.1" y="1298.5" width="14.6" height="7.0" fill="#a7a7a7"/><circle cx="640.4" cy="1298.5" r="7.3" fill="#a7a7a7"/>
<circle cx="844.0" cy="1303.3" r="14.5" fill="#fff" clip-path="url(#swT)"/>
<rect x="836.7" y="1296.1" width="14.6" height="7.2000000000000455" fill="#4b4b4b"/><circle cx="844.0" cy="1303.3" r="7.3" fill="#4b4b4b"/>
<circle cx="739.6" cy="1345.3" r="14.5" fill="#fff" clip-path="url(#swO)"/>
<rect x="739.6" y="1338.0" width="7.100000000000023" height="14.6" fill="#777777"/><circle cx="739.6" cy="1345.3" r="7.3" fill="#777777"/>
<text x="596.6" y="1247.7" font-size="15.6" font-weight="bold" fill="#fff">advantage</text><text x="596.6" y="1261.2" font-size="7.87" fill="#fff">The title can be changed by clicking</text><text x="596.6" y="1273.5" font-size="7.87" fill="#fff">and re-entering. In the top "Start"</text>
<text x="779.9" y="1248.0" font-size="15.6" font-weight="bold" fill="#fff">Weak</text><text x="779.9" y="1261.3" font-size="7.87" fill="#fff">The title can be changed by clicking</text><text x="779.9" y="1273.7" font-size="7.87" fill="#fff">and re-entering. In the top "Start"</text>
<text x="596.6" y="1340.4" font-size="15.6" font-weight="bold" fill="#fff">opportunity</text><text x="596.6" y="1354.8" font-size="7.87" fill="#fff">The title can be changed by clicking</text><text x="596.6" y="1367" font-size="7.87" fill="#fff">and re-entering. In the top "Start"</text>
<text x="780.6" y="1340.9" font-size="15.6" font-weight="bold" fill="#fff">threat</text><text x="780.6" y="1355" font-size="7.87" fill="#fff">The title can be changed by clicking</text><text x="780.6" y="1367.2" font-size="7.87" fill="#fff">and re-entering. In the top "Start"</text></g>
</svg>

<!-- S50 List -->
<svg class="s" style="left:0;top:1480px" viewBox="0 0 475 360">
<use href="#com"/>
<text class="pn" x="8.9" y="351.3">50</text>
<text class="ttl" x="57.5" y="47.9">List of bullet points</text>
<g transform="translate(0,-1480)"><rect x="57.8" y="1564.6" width="400.5" height="63.6" fill="#fdfdfd" stroke="#e4e4e4" stroke-width="0.9"/>
<rect x="57.8" y="1628.0" width="400.5" height="1.4" fill="#efefef"/>
<rect x="57.3" y="1564.6" width="1.6" height="63.6" fill="#111"/>
<path d="M105.5,1611 L111.8,1596.5 L112.6,1598 L107,1613 Z" fill="#e9e9e9"/><path d="M93.1,1579.2 L93.1,1582.3 C95,1581.2 96.8,1580.9 98.3,1581.2 L98.3,1609.5 C98.3,1611.8 96,1612.6 93.1,1612.6 L93.1,1614.6 C99.5,1614.6 103.9,1612.5 103.9,1608 L103.9,1575 C100.5,1577 97,1578.4 93.1,1579.2 Z" fill="#1a1a1a"/>
<text x="153.9" y="1588.3" font-size="13.1" font-weight="bold" fill="#1a1a1a">Click here to add title</text>
<text x="153.9" y="1605" font-size="7.88" fill="#222">The title can be changed by clicking and re-entering, and the font, font size and co</text>
<text x="153.9" y="1619.2" font-size="7.88" fill="#222">lor can be changed in the top "Start" panel</text>
<rect x="57.8" y="1638.7" width="400.5" height="64.5" fill="#fdfdfd" stroke="#e4e4e4" stroke-width="0.9"/>
<rect x="57.8" y="1703.0" width="400.5" height="1.4" fill="#efefef"/>
<rect x="57.3" y="1638.7" width="1.6" height="64.5" fill="#111"/>
<path d="M104,1684.5 L112.5,1671.5 L113.5,1673 L105.5,1686 Z" fill="#e9e9e9"/><path d="M90.2,1656.8 C89.6,1651.5 95,1647.2 102.3,1647.2 C110,1647.2 114.6,1651.8 114.6,1657.6 C114.6,1663 111.5,1666.5 106.5,1671 C101.5,1675.5 96.5,1679.5 93.6,1683.6 L105,1683.6 L102.8,1687.6 L89.4,1687.6 C91.5,1680 96,1675 101,1670.5 C106,1666 108.8,1663 108.8,1658.5 C108.8,1652.5 106.2,1649.2 102.3,1649.2 C98.8,1649.2 96,1650.6 95.2,1652.8 C95.9,1653.6 96.1,1654.6 95.8,1655.8 C95.2,1657.6 93.8,1658.6 92.6,1658.6 C91.3,1658.6 90.4,1657.9 90.2,1656.8 Z" fill="#1a1a1a"/>
<text x="153.9" y="1663.6" font-size="13.1" font-weight="bold" fill="#1a1a1a">Click here to add title</text>
<text x="153.9" y="1680.8" font-size="7.88" fill="#222">The title can be changed by clicking and re-entering, and the font, font size and co</text>
<text x="153.9" y="1695" font-size="7.88" fill="#222">lor can be changed in the top "Start" panel</text>
<rect x="57.8" y="1711.8" width="401.7" height="91.5" fill="#fdfdfd" stroke="#e4e4e4" stroke-width="0.9"/>
<rect x="57.8" y="1803.1" width="401.7" height="1.4" fill="#efefef"/>
<rect x="57.3" y="1711.8" width="1.6" height="91.5" fill="#111"/>
<path d="M105.5,1773 L112,1765 L113,1766.5 L107,1774 Z" fill="#e9e9e9"/><path d="M91,1739.5 C91,1734 96,1730.3 103,1730.3 C111,1730.3 116.8,1734.5 116.8,1740.8 C116.8,1745.8 112.5,1749 106.8,1750.2 C113,1751.3 117.3,1754.5 117.3,1757.5 L110.9,1765.6 C111.5,1763.5 112,1761.5 112,1759.5 C112,1754.5 108.5,1751.8 103.5,1751.8 L99,1752 L99,1749.5 C101.5,1749.5 103.5,1749 105.5,1747.8 C109.5,1745.5 111.3,1742.5 111.3,1739.3 C111.3,1734.5 108,1732.2 103.5,1732.2 C99.5,1732.2 97.3,1734 96.8,1736 C97.3,1737 97.2,1738.8 96.2,1739.8 C95,1741 92.3,1741 91.5,1740.2 Z" fill="#1a1a1a"/><path d="M89.5,1765.5 C89.5,1763.8 91,1762.7 92.5,1762.7 C94.5,1762.7 95.5,1764 96.5,1766.3 C98,1769.5 100.5,1772 104.5,1772.2 L106.5,1771.8 L104.5,1774.4 C101,1774.5 97,1773.8 94,1772.3 C91,1770.8 89.5,1768 89.5,1765.5 Z" fill="#1a1a1a"/>
<text x="153.9" y="1740.4" font-size="13.1" font-weight="bold" fill="#1a1a1a">Click here to add title</text>
<text x="153.9" y="1756.4" font-size="7.88" fill="#222">The title can be changed by clicking and re-entering, and the font, font size and co</text>
<text x="153.9" y="1771.1" font-size="7.88" fill="#222">lor can be changed in the top "Start" panel. The font, font size and color can be ch</text>
<text x="153.9" y="1785.5" font-size="7.88" fill="#222">anged in the top "Start" panel.</text></g>
</svg>

<!-- S51 Data comparison cards -->
<svg class="s" style="left:485px;top:1480px" viewBox="0 0 475 360">
<use href="#com"/>
<text class="pn" x="8.9" y="351.3">51</text>
<text class="ttl" x="57.5" y="47.9">Data comparison</text>
<g transform="translate(-485,-1480)"><path d="M542.3,1615.7 V1578 Q542.3,1575.8 544.5,1575.8 H654.5999999999999 Q656.8,1575.8 656.8,1578 V1615.7 Z" fill="#1f1f1f"/>
<rect x="542.3" y="1618.5" width="114.5" height="155.8" rx="2" fill="#f0f0f0"/>
<text x="571.6" y="1599.3" font-size="10.47" fill="#fff">Enter your title</text>
<text x="552.4" y="1651" font-size="9.05" fill="#2a2a2a">Enter a title</text>
<text x="609.6" y="1651" font-size="9.15" fill="#2a2a2a">500,000</text>
<text x="552.4" y="1684.5" font-size="9.05" fill="#2a2a2a">Enter a title</text>
<text x="609.6" y="1684.5" font-size="9.15" fill="#2a2a2a">300,000</text>
<text x="552.4" y="1718" font-size="9.05" fill="#2a2a2a">Enter a title</text>
<text x="609.6" y="1718" font-size="9.15" fill="#2a2a2a">60,000</text>
<text x="552.4" y="1751.5" font-size="9.05" fill="#2a2a2a">Enter a title</text>
<text x="609.6" y="1751.5" font-size="9.15" fill="#2a2a2a">55,000</text>
<line x1="551.8" y1="1664.6" x2="648" y2="1664.6" stroke="#dddddd" stroke-width="0.8"/>
<line x1="551.8" y1="1697.9" x2="648" y2="1697.9" stroke="#dddddd" stroke-width="0.8"/>
<line x1="551.8" y1="1731.4" x2="648" y2="1731.4" stroke="#dddddd" stroke-width="0.8"/>
<circle cx="548.25" cy="1595.1" r="13" fill="#fff" stroke="#151515" stroke-width="1.8"/>
<path d="M669.0,1615.7 V1578 Q669.0,1575.8 671.2,1575.8 H781.5999999999999 Q783.8,1575.8 783.8,1578 V1615.7 Z" fill="#1f1f1f"/>
<rect x="669.0" y="1618.5" width="114.8" height="155.8" rx="2" fill="#f0f0f0"/>
<text x="697.8" y="1599.3" font-size="10.47" fill="#fff">Enter your title</text>
<text x="679.0" y="1651" font-size="9.05" fill="#2a2a2a">Enter a title</text>
<text x="736.9" y="1651" font-size="9.15" fill="#2a2a2a">500,000</text>
<text x="679.0" y="1684.5" font-size="9.05" fill="#2a2a2a">Enter a title</text>
<text x="736.9" y="1684.5" font-size="9.15" fill="#2a2a2a">300,000</text>
<text x="679.0" y="1718" font-size="9.05" fill="#2a2a2a">Enter a title</text>
<text x="736.9" y="1718" font-size="9.15" fill="#2a2a2a">60,000</text>
<text x="679.0" y="1751.5" font-size="9.05" fill="#2a2a2a">Enter a title</text>
<text x="736.9" y="1751.5" font-size="9.15" fill="#2a2a2a">55,000</text>
<line x1="680" y1="1664.6" x2="775" y2="1664.6" stroke="#dddddd" stroke-width="0.8"/>
<line x1="680" y1="1697.9" x2="775" y2="1697.9" stroke="#dddddd" stroke-width="0.8"/>
<line x1="680" y1="1731.4" x2="775" y2="1731.4" stroke="#dddddd" stroke-width="0.8"/>
<circle cx="676.25" cy="1595.2" r="13" fill="#fff" stroke="#151515" stroke-width="1.8"/>
<path d="M795.6,1615.7 V1578 Q795.6,1575.8 797.8000000000001,1575.8 H941.0 Q943.2,1575.8 943.2,1578 V1615.7 Z" fill="#1f1f1f"/>
<rect x="795.6" y="1618.5" width="147.6" height="155.8" rx="2" fill="#f0f0f0"/>
<text x="829.4" y="1599.3" font-size="10.47" fill="#fff">Enter your title</text>
<text x="816.6" y="1651" font-size="9.05" fill="#2a2a2a">Enter a title</text>
<text x="875.3" y="1651" font-size="9.15" fill="#2a2a2a">500,000</text>
<text x="816.6" y="1684.5" font-size="9.05" fill="#2a2a2a">Enter a title</text>
<text x="875.3" y="1684.5" font-size="9.15" fill="#2a2a2a">300,000</text>
<text x="816.6" y="1718" font-size="9.05" fill="#2a2a2a">Enter a title</text>
<text x="875.3" y="1718" font-size="9.15" fill="#2a2a2a">60,000</text>
<text x="816.6" y="1751.5" font-size="9.05" fill="#2a2a2a">Enter a title</text>
<text x="875.3" y="1751.5" font-size="9.15" fill="#2a2a2a">55,000</text>
<line x1="816" y1="1664.6" x2="922" y2="1664.6" stroke="#dddddd" stroke-width="0.8"/>
<line x1="816" y1="1697.9" x2="922" y2="1697.9" stroke="#dddddd" stroke-width="0.8"/>
<line x1="816" y1="1731.4" x2="922" y2="1731.4" stroke="#dddddd" stroke-width="0.8"/>
<circle cx="802.6" cy="1594.9" r="13" fill="#fff" stroke="#151515" stroke-width="1.8"/>
<rect x="543.8" y="1587.8" width="10.3" height="16.3" fill="none" stroke="#151515" stroke-width="1.2"/>
<rect x="543.2" y="1602.3" width="8.5" height="2.4" fill="#151515"/>
<circle cx="547.2" cy="1591.9" r="1.35" fill="#151515"/>
<path d="M545,1597.2 Q545.2,1593.9 547.3,1593.8 Q549.6,1593.9 549.7,1597.2 Z" fill="#151515"/>
<rect x="550.9" y="1593.6" width="0.6" height="3.1" fill="#777"/>
<circle cx="553.7" cy="1602" r="4.1" fill="#fff"/><circle cx="553.7" cy="1602" r="3.1" fill="#151515"/>
<rect x="551.9" y="1601.55" width="3.6" height="0.9" fill="#fff"/><rect x="553.25" y="1600.2" width="0.9" height="3.6" fill="#fff"/>
<g transform="translate(668,1585.2) scale(0.447) translate(-107.5,-1317.4)"><path d="M115.3,1341 C114,1333 114.4,1324 119.5,1320 C123,1317.4 129,1317.2 132.5,1319.5 C137,1322.5 137.6,1331 136.9,1341 L130.5,1341.5 L126,1336 L121.5,1341.5 Z" fill="#151515"/><path d="M118.6,1331 C118.8,1328.5 121,1326.8 123.5,1326.2 C125.5,1325 128.5,1325 130.5,1326.5 C132.5,1327.5 134,1329 134,1330.2 C133.6,1333.5 132.5,1335.5 131.8,1337.2 L130.4,1341 L131,1343.2 L128,1356.6 L124.6,1356.6 L121.4,1343.4 L121.6,1341 L120.4,1337.5 C119.5,1335.5 118.8,1333.5 118.6,1331 Z" fill="#fff"/><path d="M107.5,1356.6 C108,1350 112,1345.5 119.4,1343.2 L124.6,1356.6 Z" fill="#151515"/><path d="M128,1356.6 L132.4,1343.1 C134.2,1343.3 135.6,1344 136.6,1345 C135,1348 135,1353.5 136.8,1356.6 Z" fill="#151515"/><circle cx="142" cy="1349.5" r="8" fill="#fff"/><circle cx="142" cy="1349.5" r="6.6" fill="#151515"/><rect x="138" y="1348.8" width="8" height="1.5" fill="#fff"/><rect x="141.25" y="1345.5" width="1.5" height="8" fill="#fff"/></g>
<path d="M794.3,1598.6 C794.5,1596.5 796,1595.6 797.5,1595.3 L799.2,1598.6 Z" fill="#151515"/>
<ellipse cx="799.3" cy="1591.2" rx="2.5" ry="3.3" fill="#fff" stroke="#151515" stroke-width="1.1"/>
<path d="M796.8,1590.5 Q797.5,1587.6 799.5,1587.7 Q801.8,1587.8 802,1590.5 Q799.5,1589.2 796.8,1590.5 Z" fill="#151515"/>
<path d="M801.2,1602.5 C801.5,1600 803,1599.2 805,1598.6 L806.6,1602.5 Z" fill="#151515"/>
<path d="M808.6,1602.5 L810,1598.6 C812,1599.2 813.2,1600.3 813.4,1602.5 Z" fill="#151515"/>
<ellipse cx="807.4" cy="1594" rx="2.9" ry="3.6" fill="#fff" stroke="#151515" stroke-width="1.1"/>
<path d="M804.4,1593.4 Q805,1590.2 807.5,1590.2 Q810.2,1590.3 810.5,1593.4 Q807.5,1591.8 804.4,1593.4 Z" fill="#151515"/>
<path d="M802.2,1585.4 Q806,1585.3 808.8,1587.6" fill="none" stroke="#151515" stroke-width="1"/>
<path d="M793.4,1600.2 Q797,1604.3 803.4,1604.4" fill="none" stroke="#151515" stroke-width="1.3"/></g>
</svg>

</body></html>
